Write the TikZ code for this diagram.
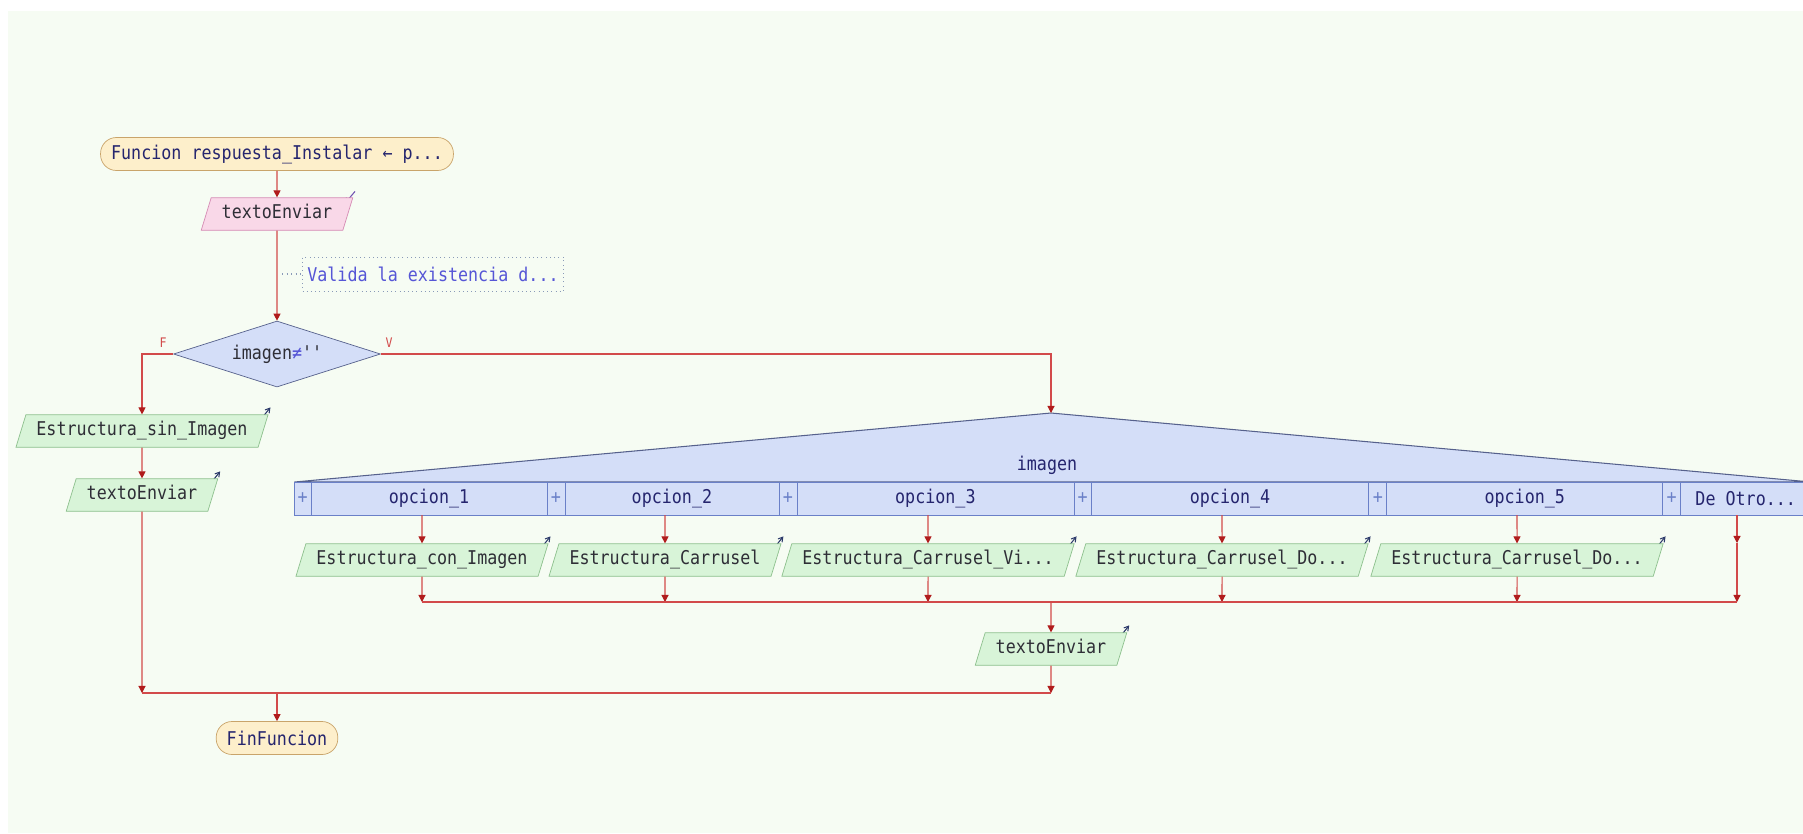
\documentclass[tikz,border=0pt]{standalone}
\usepackage{fontspec}
\newfontfamily\flujo[FakeStretch=0.88]{DejaVu Sans Mono}
\usetikzlibrary{arrows.meta,positioning,calc,shapes.geometric}
\definecolor{fondo}{HTML}{F6FCF3}
\definecolor{rojo}{HTML}{D24A4A}
\definecolor{punta}{HTML}{B01C1C}
\definecolor{termfill}{HTML}{FDEFCB}
\definecolor{termdraw}{HTML}{C9A46A}
\definecolor{leerfill}{HTML}{F9D8E8}
\definecolor{leerdraw}{HTML}{D58BB4}
\definecolor{escfill}{HTML}{D8F4D8}
\definecolor{escdraw}{HTML}{8DC08D}
\definecolor{decfill}{HTML}{D4DEF8}
\definecolor{decdraw}{HTML}{56618C}
\definecolor{segdraw}{HTML}{6A80C8}
\definecolor{tinta}{HTML}{2E2E36}
\definecolor{azul}{HTML}{25256E}
\definecolor{comtxt}{HTML}{5656D6}
\definecolor{comdraw}{HTML}{8A9AB8}
\definecolor{icoesc}{HTML}{2C3A6A}
\definecolor{icoleer}{HTML}{7050B0}

\begin{document}
\begin{tikzpicture}[x=0.02cm, y=-0.02cm,
  font=\flujo\fontsize{10.8}{12}\selectfont,
  termino/.style={draw=termdraw, fill=termfill, rounded corners=9pt, minimum height=0.66cm, inner xsep=6pt, text=azul},
  leer/.style={trapezium, trapezium left angle=73, trapezium right angle=107, draw=leerdraw, fill=leerfill, text height=8pt, text depth=2.5pt, inner ysep=4pt, inner xsep=6pt, text=tinta,
    append after command={\pgfextra{\draw[icoleer, line width=0.6pt, -{Straight Barb[length=2.5pt,width=3pt]}] ([shift={(1pt,3.4pt)}]\tikzlastnode.top right corner) -- ++(-5.7pt,-6.8pt);}}},
  escribir/.style={trapezium, trapezium left angle=73, trapezium right angle=107, draw=escdraw, fill=escfill, text height=8pt, text depth=2.5pt, inner ysep=4pt, inner xsep=6pt, text=tinta,
    append after command={\pgfextra{\draw[icoesc, line width=0.6pt, -{Straight Barb[length=2.5pt,width=3pt]}] ([shift={(-5.7pt,-4.5pt)}]\tikzlastnode.top right corner) -- ++(6.8pt,8.5pt);}}},
  decision/.style={diamond, aspect=3.1, draw=decdraw, fill=decfill, inner sep=0pt, minimum width=4.14cm, minimum height=1.32cm, text=tinta},
  celda/.style={draw=segdraw, fill=decfill, minimum height=0.66cm, inner sep=0pt, outer sep=0pt, text=azul},
  nota/.style={draw=comdraw, dotted, minimum width=5.22cm, minimum height=0.68cm, inner xsep=2pt, text=comtxt},
  rotulo/.style={text=rojo, font=\flujo\fontsize{7.5}{8}\selectfont},
  flecha/.style={draw=rojo, line width=0.6pt, -{Triangle[length=4pt,width=4pt,color=punta]}},
  union/.style={draw=rojo, line width=0.6pt}
]
\clip (0,0) rectangle (1803,833);
\fill[white] (0,0) rectangle (1803,833);
\fill[fondo] (8,11) rectangle (1803,833);

% inicio y lectura
\node[termino] (inicio) at (277,154) {Funcion respuesta\_Instalar ← p...};
\node[leer] (leer) at (277,214) {textoEnviar};
\node[nota] (nota) at (433,274) {Valida la existencia d...};
\coordinate (notaorig) at (282,274);
\node[decision] (cond) at (277,354) {imagen{\color{comtxt}≠}''};
\node[rotulo] (etiqF) at (163,343) {F};
\node[rotulo] (etiqV) at (389,343) {V};

% rama falsa
\node[escribir] (sinimg) at (142,431) {Estructura\_sin\_Imagen};
\node[escribir] (envF) at (142,495) {textoEnviar};

% segun
\coordinate (vertice) at (1051,413);
\draw[draw=decdraw, fill=decfill, line width=0.6pt] (294.5,482) -- (vertice) -- (1811,482) -- cycle;
\node[text=azul] (selector) at (1047,465) {imagen};
\node[celda, minimum width=0.33cm, text=segdraw, anchor=west] (mas1) at (294.5,498.5) {+};
\node[celda, minimum width=4.72cm, right=0pt of mas1] (op1) {opcion\_1};
\node[celda, minimum width=0.36cm, text=segdraw, right=0pt of op1] (mas2) {+};
\node[celda, minimum width=4.28cm, right=0pt of mas2] (op2) {opcion\_2};
\node[celda, minimum width=0.36cm, text=segdraw, right=0pt of op2] (mas3) {+};
\node[celda, minimum width=5.54cm, right=0pt of mas3] (op3) {opcion\_3};
\node[celda, minimum width=0.35cm, text=segdraw, right=0pt of op3] (mas4) {+};
\node[celda, minimum width=5.55cm, right=0pt of mas4] (op4) {opcion\_4};
\node[celda, minimum width=0.36cm, text=segdraw, right=0pt of op4] (mas5) {+};
\node[celda, minimum width=5.52cm, right=0pt of mas5] (op5) {opcion\_5};
\node[celda, minimum width=0.36cm, text=segdraw, right=0pt of op5] (mas6) {+};
\node[celda, minimum width=2.6cm, right=0pt of mas6] (otro) {De Otro...};

\node[escribir] (c1) at (422,560) {Estructura\_con\_Imagen};
\node[escribir] (c2) at (665,560) {Estructura\_Carrusel};
\node[escribir] (c3) at (928,560) {Estructura\_Carrusel\_Vi...};
\node[escribir] (c4) at (1222,560) {Estructura\_Carrusel\_Do...};
\node[escribir] (c5) at (1517,560) {Estructura\_Carrusel\_Do...};
\coordinate (otrosal) at (1737,515);
\coordinate (otromed) at (1737,543);
\coordinate (m1) at (1051,602);
\node[escribir] (envV) at (1051,649) {textoEnviar};
\coordinate (m2) at (277,693);
\node[termino] (fin) at (277,738) {FinFuncion};

% conectores
\draw[flecha] (inicio) -- (leer);
\draw[flecha] (leer) -- (cond);
\draw[draw=comdraw, dotted, line width=0.6pt] (notaorig) -- (nota);
\draw[flecha] (cond) -| (sinimg);
\draw[flecha] (cond) -| (vertice);
\draw[flecha] (sinimg) -- (envF);
\draw[flecha] (envF) -- (envF |- m2);
\draw[flecha] (op1.south -| c1) -- (c1);
\draw[flecha] (op2.south -| c2) -- (c2);
\draw[flecha] (op3.south -| c3) -- (c3);
\draw[flecha] (op4.south -| c4) -- (c4);
\draw[flecha] (op5.south -| c5) -- (c5);
\draw[flecha] (otrosal) -- (otromed);
\draw[flecha] (c1) -- (c1 |- m1);
\draw[flecha] (c2) -- (c2 |- m1);
\draw[flecha] (c3) -- (c3 |- m1);
\draw[flecha] (c4) -- (c4 |- m1);
\draw[flecha] (c5) -- (c5 |- m1);
\draw[flecha] (otromed) -- (otromed |- m1);
\draw[union] (c1 |- m1) -- (otromed |- m1);
\draw[flecha] (m1) -- (envV);
\draw[flecha] (envV) -- (envV |- m2);
\draw[union] (envF |- m2) -- (envV |- m2);
\draw[flecha] (m2) -- (fin);
\end{tikzpicture}
\end{document}
